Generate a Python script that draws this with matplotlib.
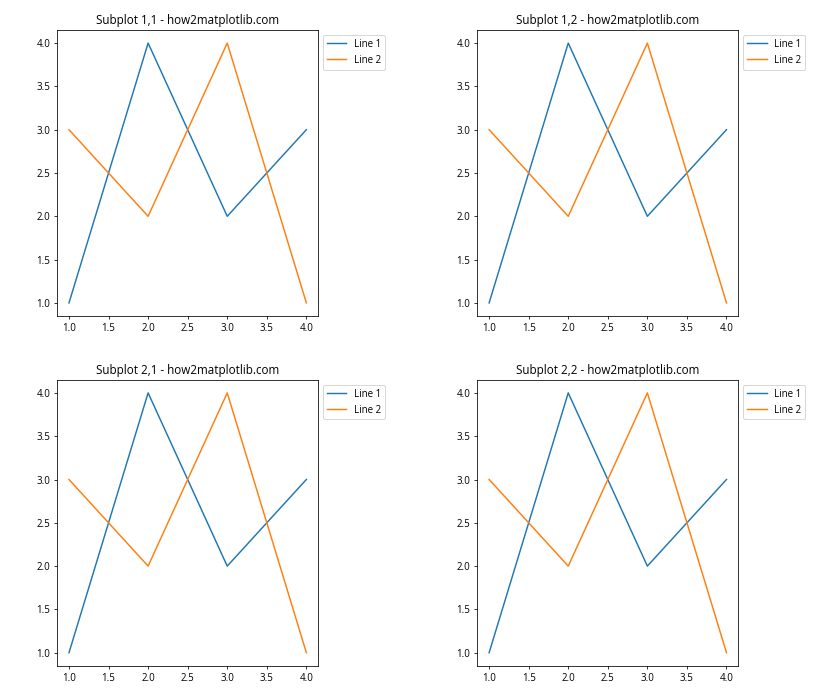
import matplotlib
matplotlib.use("Agg")
import matplotlib.pyplot as plt

plt.rcParams['font.family'] = ['Open Sans', 'DejaVu Sans']

x = [1, 2, 3, 4]
line1 = [1, 4, 2, 3]
line2 = [3, 2, 4, 1]
labels = ["Line 1", "Line 2"]

fig, axs = plt.subplots(2, 2, figsize=(12, 10), dpi=70)
fig.subplots_adjust(left=0.068, right=0.879, top=0.957, bottom=0.049, wspace=0.609, hspace=0.224)
for i in range(2):
    for j in range(2):
        ax = axs[i, j]
        ax.plot(x, line1, label=labels[0])
        ax.plot(x, line2, label=labels[1])
        ax.set_title(f"Subplot {i+1},{j+1} - how2matplotlib.com")
        ax.legend(loc='upper left', bbox_to_anchor=(1, 1))
fig.savefig("out.png", dpi=70)
